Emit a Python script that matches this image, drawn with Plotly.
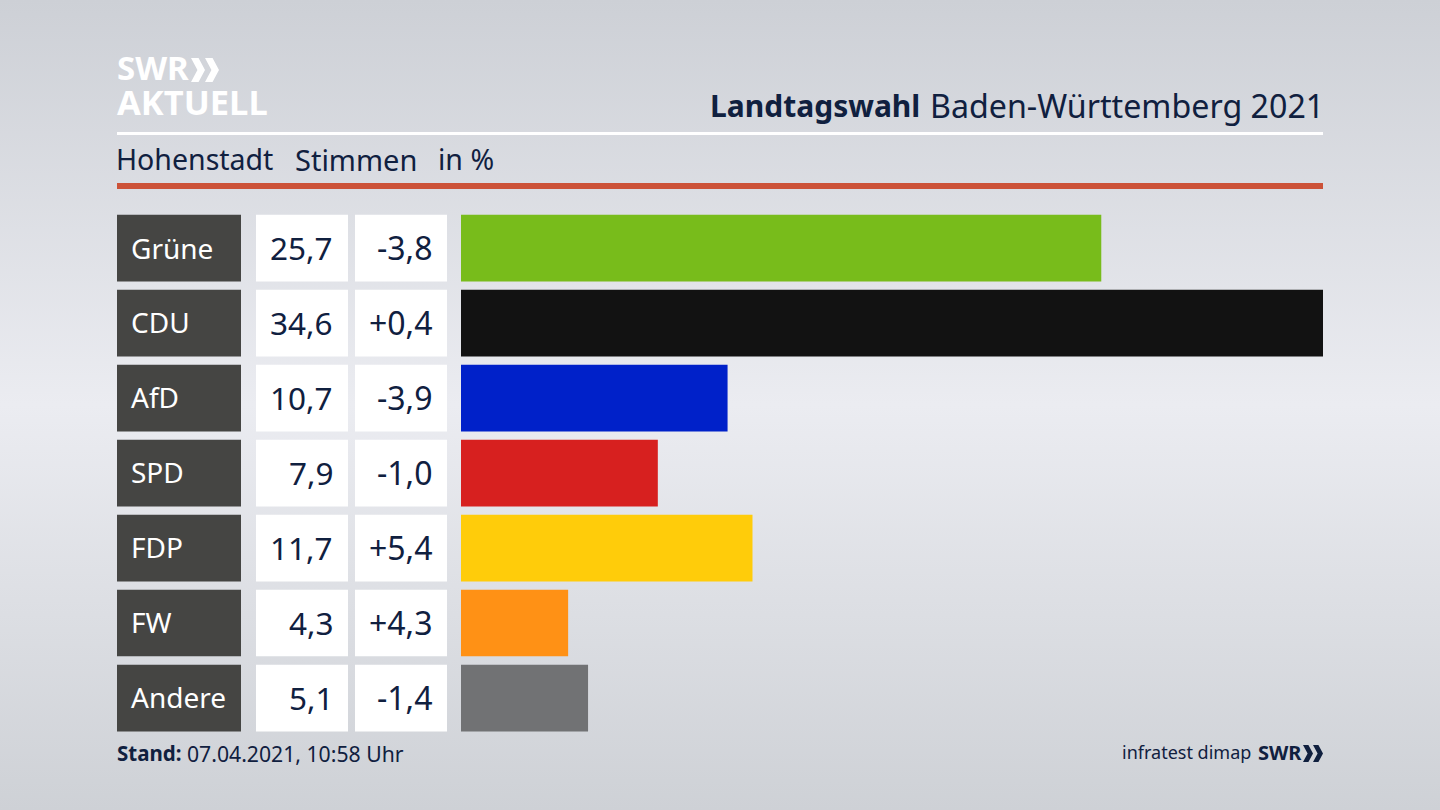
import base64
import plotly.graph_objects as go

# Values
parties = ["Grüne", "CDU", "AfD", "SPD", "FDP", "FW", "Andere"]
shares = [25.7, 34.6, 10.7, 7.9, 11.7, 4.3, 5.1]
share_labels = ["25,7", "34,6", "10,7", "7,9", "11,7", "4,3", "5,1"]
diff_labels = ["-3,8", "+0,4", "-3,9", "-1,0", "+5,4", "+4,3", "-1,4"]
colors = ["#78bc1b", "#121212", "#0021c9", "#d7201f", "#ffcc0a", "#ff9115", "#717274"]

W, H = 1440, 810
NAVY = "#10203f"
FONT = "Noto Sans"
BAR_W = 0.89


def px(x):
    return x / W


def py(y):
    return 1 - y / H


def x_dom(a, b):
    return [px(a), px(b)]


fig = go.Figure()
fig.add_bar(x=shares, y=parties, orientation="h", marker_color=colors, width=BAR_W,
            marker_line_width=0, xaxis="x", yaxis="y", showlegend=False, hoverinfo="x+y")

# label and number cells are bars too, each on its own x axis
for ax, color in (("x2", "#454543"), ("x3", "white"), ("x4", "white")):
    fig.add_bar(x=[1] * len(parties), y=parties, orientation="h", marker_color=color,
                marker_line_width=0, width=BAR_W, xaxis=ax, yaxis="y", showlegend=False,
                hoverinfo="skip")

# background gradient, light band through the middle
svg = f"""<svg xmlns="http://www.w3.org/2000/svg" width="{W}" height="{H}">
<defs><linearGradient id="g" x1="0" y1="0" x2="0" y2="1">
<stop offset="0%" stop-color="#cdd0d6"/><stop offset="50%" stop-color="#ebecf1"/>
<stop offset="100%" stop-color="#ced1d6"/></linearGradient></defs>
<rect width="{W}" height="{H}" fill="url(#g)"/></svg>"""
bg = "data:image/svg+xml;base64," + base64.b64encode(svg.encode()).decode()

shapes = [
    dict(type="rect", xref="paper", yref="paper", x0=px(117), x1=px(1323), y0=py(135), y1=py(132),
         fillcolor="white", line_width=0),
    dict(type="rect", xref="paper", yref="paper", x0=px(117), x1=px(1323), y0=py(189), y1=py(183),
         fillcolor="#cc5238", line_width=0),
]


def chevrons(x, y, w, h, color):
    # two right-pointing chevrons, used in both SWR logos
    for i in range(2):
        x0 = x + i * w * 0.5
        t = w * 0.27
        pts = [(x0, y), (x0 + t, y), (x0 + w * 0.5, y + h / 2), (x0 + t, y + h),
               (x0, y + h), (x0 + w * 0.5 - t, y + h / 2)]
        path = "M " + " L ".join(f"{px(a):.5f},{py(b):.5f}" for a, b in pts) + " Z"
        shapes.append(dict(type="path", xref="paper", yref="paper", path=path,
                           fillcolor=color, line_width=0))


chevrons(191, 58, 28, 24, "white")
chevrons(1303, 745, 20, 17, NAVY)


def label(x, y, text, size, color=NAVY, anchor="left"):
    return dict(xref="paper", yref="paper", x=px(x), y=py(y), text=text, showarrow=False,
                xanchor=anchor, yanchor="middle", align=anchor, borderpad=0,
                font=dict(family=FONT, size=size, color=color))


annotations = [
    label(115.5, 68, "<b>SWR</b>", 33, "white"),
    label(115.5, 102, "<b>AKTUELL</b>", 34.5, "white"),
    label(921, 105, "<b>Landtagswahl</b>", 30, anchor="right"),
    label(1324.5, 105, "Baden-Württemberg 2021", 32.2, anchor="right"),
    label(115, 159, "Hohenstadt", 28.5),
    label(294, 159, "Stimmen", 29),
    label(437.5, 159, "in %", 28.5),
    label(116, 753, "<b>Stand:</b>", 20.5),
    label(186, 753, "07.04.2021, 10:58 Uhr", 21.2),
    label(1252, 752, "infratest dimap", 18, anchor="right"),
    label(1302.5, 752, "<b>SWR</b>", 20, anchor="right"),
]
for i, party in enumerate(parties):
    y = 247.5 + i * 74.95
    annotations.append(label(130, y, party, 28, "white"))
    annotations.append(label(334, y, share_labels[i], 31.5, anchor="right"))
    annotations.append(label(434, y, diff_labels[i], 32, anchor="right"))

hidden = dict(visible=False, fixedrange=True)
fig.update_layout(
    width=W, height=H, margin=dict(l=0, r=0, t=0, b=0),
    paper_bgcolor="#e2e4ea", plot_bgcolor="rgba(0,0,0,0)",
    barmode="overlay", showlegend=False,
    xaxis=dict(domain=x_dom(461, 1323), range=[0, 34.6], **hidden),
    xaxis2=dict(domain=x_dom(117, 241), range=[0, 1], anchor="y", **hidden),
    xaxis3=dict(domain=x_dom(256, 348), range=[0, 1], anchor="y", **hidden),
    xaxis4=dict(domain=x_dom(355, 447), range=[0, 1], anchor="y", **hidden),
    yaxis=dict(domain=[py(735.5), py(210.5)], range=[6.5, -0.5], type="category",
               categoryorder="array", categoryarray=parties, **hidden),
    images=[dict(source=bg, xref="paper", yref="paper", x=0, y=1, sizex=1, sizey=1,
                 sizing="stretch", layer="below")],
    shapes=shapes,
    annotations=annotations,
)

fig.write_html("out.html", config={"displayModeBar": False},
               post_script="document.body.style.margin='0';")
